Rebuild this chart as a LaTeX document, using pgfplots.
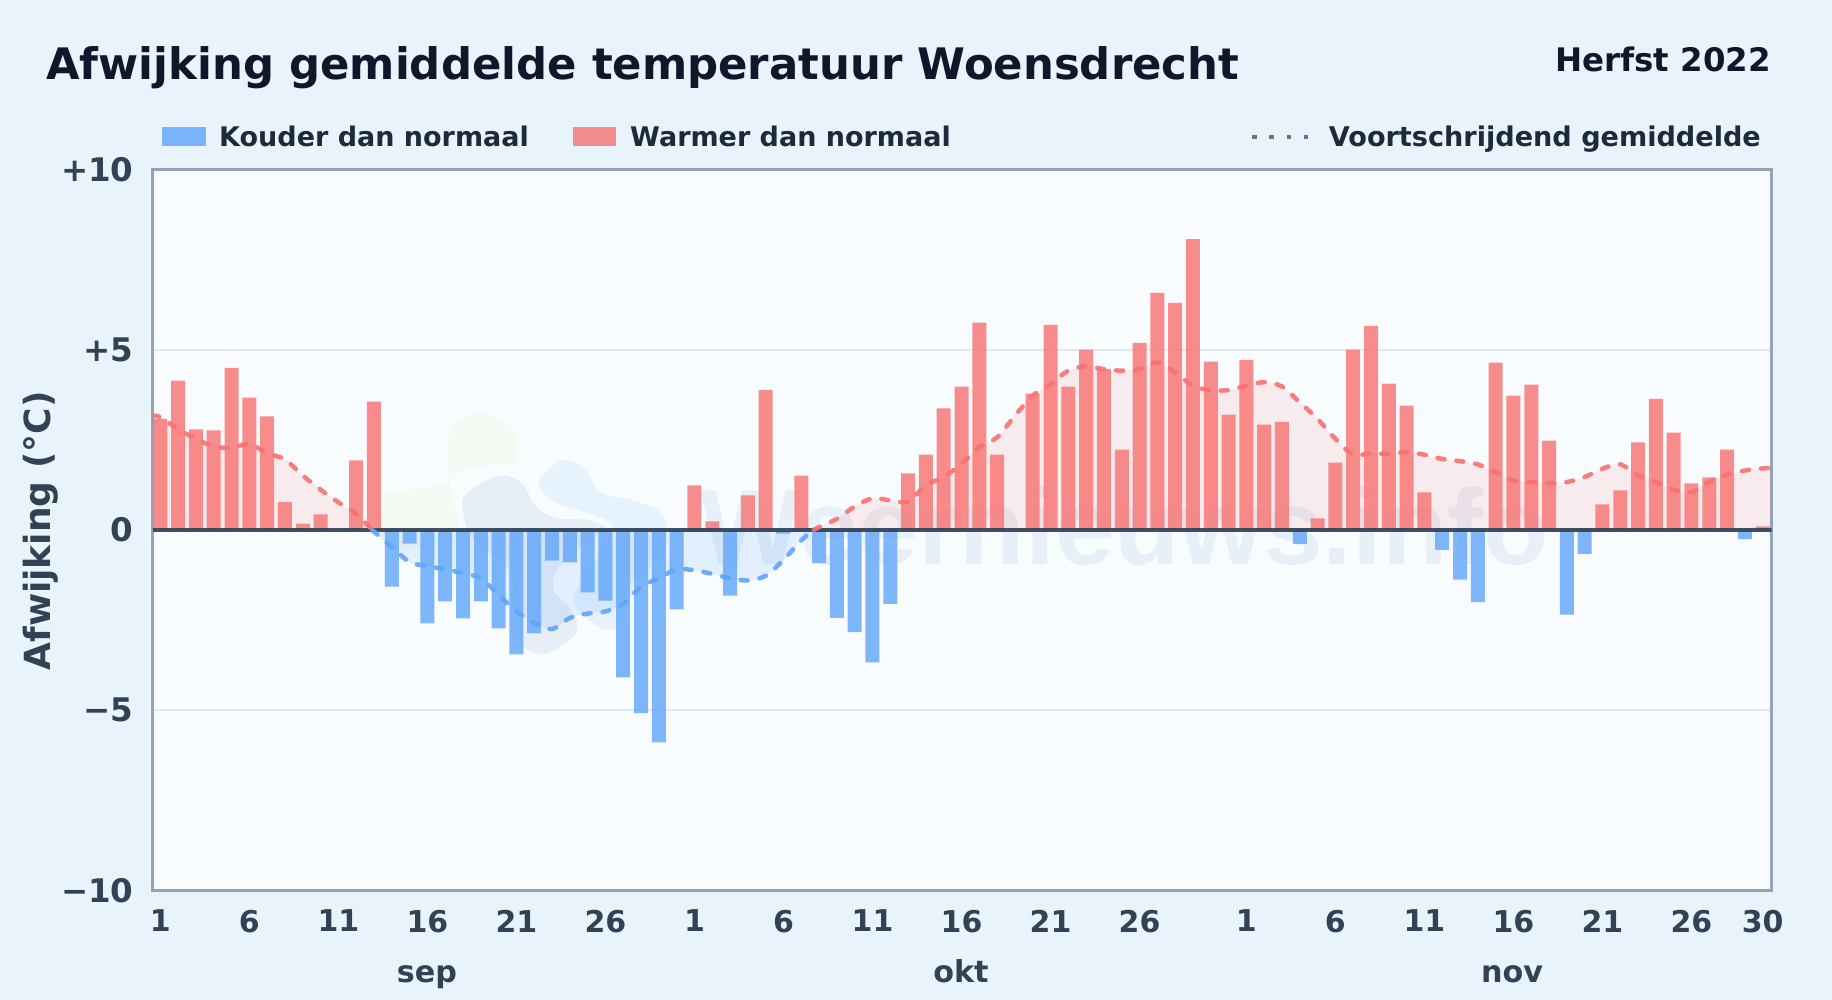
\documentclass[border=0pt]{standalone}
\usepackage{fontspec}
\setmainfont{DejaVu Sans}
\newfontfamily\wmfont{Liberation Sans}
\usepackage{pgfplots}
\pgfplotsset{compat=1.18}
\definecolor{pagebg}{HTML}{E8F3FC}
\definecolor{plotbg}{HTML}{F8FCFF}
\definecolor{frame}{HTML}{94A3B8}
\definecolor{gridc}{HTML}{E2E8F0}
\definecolor{zeroc}{HTML}{334155}
\definecolor{labelc}{HTML}{334155}
\definecolor{legc}{HTML}{1E293B}
\definecolor{titlec}{HTML}{0F172A}
\definecolor{coldc}{HTML}{60A5FA}
\definecolor{warmc}{HTML}{F87171}
\definecolor{dotc}{HTML}{64748B}
\definecolor{wmc}{HTML}{E7F0F8}
\definecolor{blobg}{HTML}{F3F9F3}
\definecolor{blobd}{HTML}{E6EFF8}
\definecolor{blobl}{HTML}{E6F3FD}
\begin{document}
\begin{tikzpicture}[x=1pt,y=1pt]
\path[use as bounding box] (0,0) rectangle (1832,1000);
\fill[pagebg] (0,0) rectangle (1832,1000);
\fill[plotbg] (152.5,109.5) rectangle (1771.6,830.5);
%% watermark logo and text, under the bars
\fill[blobg] plot[smooth cycle,tension=.6] coordinates {(450,567) (483,587) (513,570) (517,550) (510,537) (470,532) (450,520) (430,513) (390,507) (382,493) (383,470) (410,453) (470,463) (452,500)};
\path[fill=blobd,draw=plotbg,line width=6pt] plot[smooth cycle,tension=.6] coordinates {(463,507) (497,527) (523,520) (537,497) (557,485) (590,483) (610,473) (563,433) (557,410) (577,390) (577,363) (543,343) (513,357) (507,383) (510,423) (470,460) (460,490)};
\path[fill=blobl,draw=plotbg,line width=6pt] plot[smooth cycle,tension=.6] coordinates {(537,523) (563,543) (587,533) (603,510) (637,502) (663,490) (670,470) (663,440) (630,410) (627,377) (603,368) (577,387) (570,403) (583,427) (610,470) (583,485) (557,493) (540,507)};
\node[anchor=base west,inner sep=0pt,text=wmc] at (700,435) {\fontsize{107}{107}\selectfont\wmfont\bfseries Weernieuws.info};
%%
\begin{axis}[%%
  at={(152.5pt,109.5pt)},anchor=south west,%%
  scale only axis,width=1619.1pt,height=721pt,%%
  xmin=0.56,xmax=91.5,ymin=-10,ymax=10,%%
  axis line style={frame,line width=3pt},%%
  major tick length=0pt,%%
  xtick={1,6,11,16,21,26,31,36,41,46,51,56,62,67,72,77,82,87,91},%%
  xticklabels={1,6,11,16,21,26,1,6,11,16,21,26,1,6,11,16,21,26,30},%%
  ytick={-10,-5,0,5,10},%%
  yticklabels={−10,−5,0,+5,+10},%%
  xticklabel style={font=\fontsize{30}{30}\selectfont\bfseries,text=labelc,yshift=-16pt},%%
  yticklabel style={font=\fontsize{32.5}{32}\selectfont\bfseries,text=labelc,xshift=-15.5pt},%%
  ymajorgrids,grid style={gridc,line width=2pt}%%
]
%% shaded area under the running mean
\addplot[draw=none,fill=warmc,fill opacity=.12,smooth,tension=.5] coordinates {
  (0.56,3.17) (1,3.13) (2,2.8) (3,2.53) (4,2.32) (5,2.28) (6,2.39) (7,2.13) (8,1.96) (9,1.51)
  (10,1.12) (11,0.77) (12,0.45) (12.9,0)
} \closedcycle;
\addplot[draw=none,fill=coldc,fill opacity=.15,smooth,tension=.5] coordinates {
  (12.9,0) (14,-0.47) (15,-0.89) (16,-1.0) (17,-1.09) (18,-1.2) (19,-1.34) (20,-1.8) (21,-2.26)
  (22,-2.58) (23,-2.75) (24,-2.44) (25,-2.32) (26,-2.26) (27,-2.05) (28,-1.57) (29,-1.34)
  (30,-1.09) (31,-1.12) (32,-1.22) (33,-1.34) (34,-1.4) (35,-1.27) (36,-0.83) (37,-0.29) (37.7,0)
} \closedcycle;
\addplot[draw=none,fill=warmc,fill opacity=.12,smooth,tension=.5] coordinates {
  (37.7,0) (38,0.08) (39,0.31) (40,0.65) (41,0.88) (42,0.82) (43,0.79) (44,1.24) (45,1.47)
  (46,1.84) (47,2.3) (48,2.57) (49,3.17) (50,3.73) (51,4.05) (52,4.42) (53,4.54) (54,4.46)
  (55,4.42) (56,4.46) (57,4.65) (58,4.37) (59,4.0) (60,3.88) (61,3.88) (62,4.0) (63,4.1)
  (64,3.98) (65,3.54) (66,3.08) (67,2.53) (68,2.09) (69,2.13) (70,2.11) (71,2.16) (72,2.09)
  (73,1.97) (74,1.91) (75,1.82) (76,1.6) (77,1.37) (78,1.33) (79,1.3) (80,1.33) (81,1.47)
  (82,1.7) (83,1.82) (84,1.51) (85,1.33) (86,1.12) (87,1.05) (88,1.33) (89,1.54) (90,1.65)
  (91,1.71) (91.5,1.72)
} \closedcycle;
%% days colder than normal
\addplot[ybar,bar width=14pt,bar shift=0pt,draw=none,fill=coldc,fill opacity=.8] coordinates {
  (14,-1.57) (15,-0.38) (16,-2.59) (17,-1.98) (18,-2.45) (19,-1.98) (20,-2.73) (21,-3.45)
  (22,-2.87) (23,-0.85) (24,-0.9) (25,-1.73) (26,-1.96) (27,-4.09) (28,-5.08) (29,-5.89)
  (30,-2.2) (33,-1.82) (36,-0.1) (38,-0.92) (39,-2.44) (40,-2.83) (41,-3.67) (42,-2.05)
  (65,-0.39) (73,-0.55) (74,-1.38) (75,-2.0) (80,-2.35) (81,-0.66) (90,-0.25)
};
%% days warmer than normal
\addplot[ybar,bar width=14pt,bar shift=0pt,draw=none,fill=warmc,fill opacity=.8] coordinates {
  (1,3.08) (2,4.14) (3,2.79) (4,2.76) (5,4.5) (6,3.67) (7,3.15) (8,0.77) (9,0.18) (10,0.43)
  (12,1.93) (13,3.56) (31,1.24) (32,0.24) (34,0.96) (35,3.89) (37,1.51)
  (43,1.57) (44,2.09) (45,3.37) (46,3.98) (47,5.75) (48,2.09) (50,3.78) (51,5.69) (52,3.98)
  (53,5.0) (54,4.46) (55,2.23) (56,5.19) (57,6.58) (58,6.3) (59,8.07) (60,4.67) (61,3.2)
  (62,4.72) (63,2.92) (64,3.0) (66,0.32) (67,1.87) (68,5.0) (69,5.66) (70,4.06) (71,3.45)
  (72,1.04) (76,4.64) (77,3.73) (78,4.03) (79,2.48) (82,0.71) (83,1.1) (84,2.43) (85,3.64)
  (86,2.7) (87,1.29) (88,1.46) (89,2.23) (91,0.1)
};
%% zero line
\addplot[zeroc,line width=4.5pt,opacity=.92] coordinates {(0.56,0) (91.5,0)};
%% running mean
\addplot[warmc,opacity=.9,line width=4.5pt,line cap=round,dash pattern=on 7pt off 12pt,smooth,tension=.5] coordinates {
  (0.56,3.17) (1,3.13) (2,2.8) (3,2.53) (4,2.32) (5,2.28) (6,2.39) (7,2.13) (8,1.96) (9,1.51)
  (10,1.12) (11,0.77) (12,0.45) (12.9,0)
};
\addplot[coldc,opacity=.9,line width=4.5pt,line cap=round,dash pattern=on 7pt off 12pt,smooth,tension=.5] coordinates {
  (12.9,0) (14,-0.47) (15,-0.89) (16,-1.0) (17,-1.09) (18,-1.2) (19,-1.34) (20,-1.8) (21,-2.26)
  (22,-2.58) (23,-2.75) (24,-2.44) (25,-2.32) (26,-2.26) (27,-2.05) (28,-1.57) (29,-1.34)
  (30,-1.09) (31,-1.12) (32,-1.22) (33,-1.34) (34,-1.4) (35,-1.27) (36,-0.83) (37,-0.29) (37.7,0)
};
\addplot[warmc,opacity=.9,line width=4.5pt,line cap=round,dash pattern=on 7pt off 12pt,smooth,tension=.5] coordinates {
  (37.7,0) (38,0.08) (39,0.31) (40,0.65) (41,0.88) (42,0.82) (43,0.79) (44,1.24) (45,1.47)
  (46,1.84) (47,2.3) (48,2.57) (49,3.17) (50,3.73) (51,4.05) (52,4.42) (53,4.54) (54,4.46)
  (55,4.42) (56,4.46) (57,4.65) (58,4.37) (59,4.0) (60,3.88) (61,3.88) (62,4.0) (63,4.1)
  (64,3.98) (65,3.54) (66,3.08) (67,2.53) (68,2.09) (69,2.13) (70,2.11) (71,2.16) (72,2.09)
  (73,1.97) (74,1.91) (75,1.82) (76,1.6) (77,1.37) (78,1.33) (79,1.3) (80,1.33) (81,1.47)
  (82,1.7) (83,1.82) (84,1.51) (85,1.33) (86,1.12) (87,1.05) (88,1.33) (89,1.54) (90,1.65)
  (91,1.71) (91.5,1.72)
};
\end{axis}
%% title and legend
\node[anchor=base west,inner sep=0pt,text=titlec] at (46,920) {\fontsize{43.4}{43}\selectfont\bfseries Afwijking gemiddelde temperatuur Woensdrecht};
\node[anchor=base east,inner sep=0pt,text=titlec] at (1771,928) {\fontsize{32.4}{32}\selectfont\bfseries Herfst 2022};
\fill[coldc,opacity=.8] (162,853.5) rectangle (206,872.5);
\fill[warmc,opacity=.8] (573,853.5) rectangle (616,872.5);
\draw[dotc,line width=4.5pt,dash pattern=on 4.5pt off 12.8pt] (1252,863) -- (1310,863);
\node[anchor=base west,inner sep=0pt,text=legc] at (219,853) {\fontsize{27}{27}\selectfont\bfseries Kouder dan normaal};
\node[anchor=base west,inner sep=0pt,text=legc] at (630,853) {\fontsize{27}{27}\selectfont\bfseries Warmer dan normaal};
\node[anchor=base east,inner sep=0pt,text=legc] at (1761,853) {\fontsize{27.1}{27}\selectfont\bfseries Voortschrijdend gemiddelde};
%% month names and y label
\foreach \xp/\mname in {427/sep,961/okt,1512/nov}
  \node[anchor=base,inner sep=0pt,text=labelc] at (\xp,17) {\fontsize{30.2}{30}\selectfont\bfseries \mname};
\node[rotate=90,inner sep=0pt,text=labelc] at (40.5,469) {\fontsize{36}{36}\selectfont\bfseries Afwijking (°C)};
\end{tikzpicture}
\end{document}
